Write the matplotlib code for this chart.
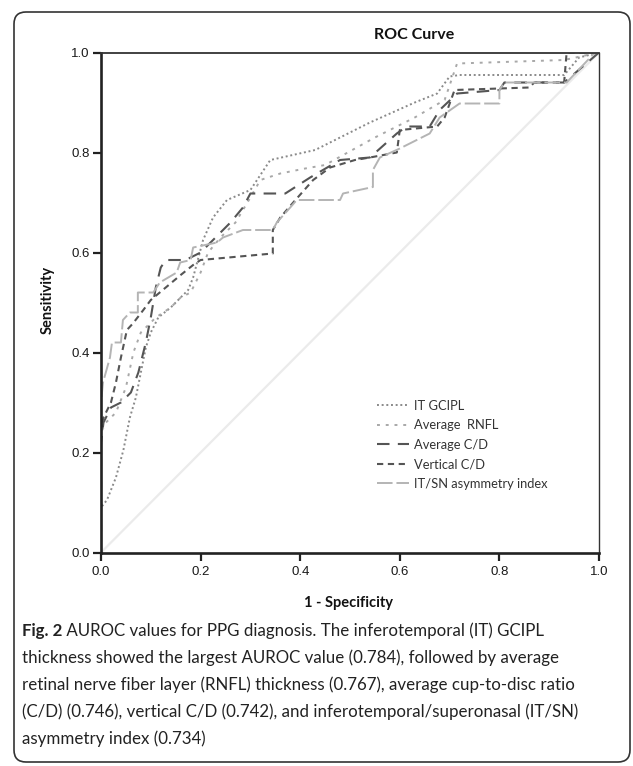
import matplotlib
matplotlib.use("Agg")
import matplotlib.pyplot as plt
from matplotlib.patches import FancyBboxPatch
from matplotlib.transforms import IdentityTransform

# ROC curves (x = 1 - specificity, y = sensitivity)
gcipl_x = [0.0, 0.0, 0.012, 0.03, 0.045, 0.058, 0.07, 0.08, 0.09, 0.10, 0.115, 0.14, 0.16, 0.175, 0.185,
           0.205, 0.225, 0.253, 0.30, 0.34, 0.43, 0.54, 0.63, 0.675, 0.70, 0.72, 0.93, 0.96, 1.0]
gcipl_y = [0.0, 0.09, 0.105, 0.15, 0.205, 0.27, 0.31, 0.36, 0.41, 0.44, 0.47, 0.49, 0.51, 0.525, 0.55,
           0.625, 0.67, 0.705, 0.725, 0.785, 0.805, 0.86, 0.90, 0.918, 0.952, 0.955, 0.955, 0.99, 1.0]

rnfl_x = [0.0, 0.0, 0.01, 0.03, 0.05, 0.065, 0.08, 0.11, 0.14, 0.16, 0.18, 0.20, 0.215, 0.24, 0.27,
          0.30, 0.32, 0.36, 0.41, 0.45, 0.55, 0.63, 0.69, 0.715, 0.93, 1.0]
rnfl_y = [0.0, 0.24, 0.26, 0.28, 0.33, 0.40, 0.44, 0.47, 0.49, 0.51, 0.52, 0.56, 0.60, 0.63, 0.66,
          0.71, 0.745, 0.758, 0.768, 0.775, 0.83, 0.87, 0.905, 0.978, 0.985, 1.0]

avg_cd_x = [0.0, 0.0, 0.005, 0.02, 0.04, 0.06, 0.075, 0.09, 0.10, 0.11, 0.12, 0.13, 0.17, 0.20, 0.23,
            0.26, 0.285, 0.30, 0.37, 0.42, 0.48, 0.54, 0.594, 0.614, 0.66, 0.68, 0.715, 0.80, 0.81,
            0.93, 1.0]
avg_cd_y = [0.0, 0.22, 0.26, 0.29, 0.30, 0.32, 0.36, 0.42, 0.47, 0.53, 0.57, 0.585, 0.585, 0.60, 0.63,
            0.66, 0.69, 0.718, 0.718, 0.75, 0.785, 0.79, 0.838, 0.852, 0.852, 0.885, 0.918, 0.925, 0.94,
            0.94, 1.0]

vert_cd_x = [0.0, 0.0, 0.005, 0.02, 0.03, 0.04, 0.052, 0.064, 0.085, 0.10, 0.13, 0.16, 0.185, 0.20,
             0.345, 0.345, 0.36, 0.386, 0.426, 0.46, 0.51, 0.54, 0.594, 0.60, 0.675, 0.69, 0.71, 0.86,
             0.87, 0.93, 0.935, 1.0]
vert_cd_y = [0.0, 0.25, 0.27, 0.30, 0.34, 0.39, 0.445, 0.458, 0.485, 0.505, 0.53, 0.555, 0.575, 0.585,
             0.598, 0.645, 0.67, 0.70, 0.745, 0.77, 0.785, 0.79, 0.80, 0.845, 0.852, 0.87, 0.925, 0.93,
             0.94, 0.94, 1.0, 1.0]

itsn_x = [0.0, 0.0, 0.004, 0.018, 0.022, 0.04, 0.044, 0.058, 0.074, 0.074, 0.105, 0.118, 0.152, 0.159,
          0.18, 0.185, 0.233, 0.245, 0.285, 0.345, 0.353, 0.38, 0.393, 0.48, 0.486, 0.546, 0.546, 0.56,
          0.60, 0.62, 0.634, 0.66, 0.68, 0.72, 0.80, 0.80, 0.81, 0.935, 0.99, 1.0]
itsn_y = [0.0, 0.30, 0.34, 0.39, 0.42, 0.42, 0.465, 0.48, 0.48, 0.52, 0.52, 0.54, 0.56, 0.58,
          0.585, 0.61, 0.62, 0.63, 0.645, 0.645, 0.66, 0.69, 0.705, 0.705, 0.718, 0.731, 0.765, 0.79,
          0.808, 0.818, 0.825, 0.838, 0.87, 0.898, 0.898, 0.925, 0.94, 0.94, 0.998, 1.0]

labels = ["IT GCIPL", "Average  RNFL", "Average C/D", "Vertical C/D", "IT/SN asymmetry index"]
ticks = [0.0, 0.2, 0.4, 0.6, 0.8, 1.0]

caption_bold = "Fig. 2"
caption_lines = [
    " AUROC values for PPG diagnosis. The inferotemporal (IT) GCIPL",
    "thickness showed the largest AUROC value (0.784), followed by average",
    "retinal nerve fiber layer (RNFL) thickness (0.767), average cup-to-disc ratio",
    "(C/D) (0.746), vertical C/D (0.742), and inferotemporal/superonasal (IT/SN)",
    "asymmetry index (0.734)",
]

W, H = 633, 766
fig = plt.figure(figsize=(W / 100, H / 100), dpi=100)
ax = fig.add_axes([101 / W, 1 - 552.5 / H, 498 / W, 500 / H])

ax.plot([0, 1], [0, 1], color="#ebebeb", lw=1.6, zorder=1)
ax.plot(gcipl_x, gcipl_y, color="#8a8a8a", lw=1.4, ls=(0, (1, 1.4)), label=labels[0])
ax.plot(rnfl_x, rnfl_y, color="#a8a8a8", lw=1.4, ls=(0, (1.5, 3)), label=labels[1])
ax.plot(avg_cd_x, avg_cd_y, color="#555555", lw=1.5, ls=(0, (6, 4)), label=labels[2])
ax.plot(vert_cd_x, vert_cd_y, color="#555555", lw=1.5, ls=(0, (3, 2.2)), label=labels[3])
ax.plot(itsn_x, itsn_y, color="#b4b4b4", lw=1.4, ls=(0, (8, 2)), label=labels[4])

ax.set_xlim(0, 1)
ax.set_ylim(0, 1)
ax.set_xticks(ticks)
ax.set_yticks(ticks)
ax.set_xticklabels([f"{t:.1f}" for t in ticks], family="Liberation Sans", size=9.5, color="#1a1a1a")
ax.set_yticklabels([f"{t:.1f}" for t in ticks], family="Liberation Sans", size=9.5, color="#1a1a1a")
ax.tick_params(direction="out", length=6, width=1.6, color="#222222")
ax.tick_params(axis="x", pad=4)
ax.tick_params(axis="y", pad=2)
for side in ["left", "bottom"]:
    ax.spines[side].set_linewidth(1.9)
    ax.spines[side].set_color("#222222")
ax.spines["top"].set_linewidth(1.3)
ax.spines["top"].set_color("#333333")
ax.spines["right"].set_linewidth(1.0)
ax.spines["right"].set_color("#333333")

fig.text(414 / W, 1 - 35 / H, "ROC Curve", family="Lato", weight="bold", size=11.5,
         ha="center", va="center", color="#111111")
fig.text(349 / W, 1 - 603 / H, "1 - Specificity", family="Lato", weight="bold", size=10.5,
         ha="center", va="center", color="#111111")
fig.text(48 / W, 1 - 300 / H, "Sensitivity", family="Lato", weight="bold", size=10.5,
         ha="center", va="center", rotation=90, color="#111111")

leg = ax.legend(loc="upper left", bbox_to_anchor=(0.554, 0.305), frameon=False,
                prop={"family": "Lato", "size": 9.3}, handlelength=2.5, handletextpad=0.35,
                labelspacing=0.58, borderpad=0, borderaxespad=0)
for t in leg.get_texts():
    t.set_color("#333333")

# caption below the chart
line_y = [631, 658, 685, 712, 739]
fs = 12.2
bold = fig.text(22 / W, 1 - line_y[0] / H, caption_bold, family="Lato", weight="bold",
                size=fs, va="center", color="#222222")
renderer = fig.canvas.get_renderer()
bb = bold.get_window_extent(renderer)
fig.text(bb.x1 / W, 1 - line_y[0] / H, caption_lines[0], family="Lato", size=fs,
         va="center", color="#222222")
for y, line in zip(line_y[1:], caption_lines[1:]):
    fig.text(22 / W, 1 - y / H, line, family="Lato", size=fs, va="center", color="#222222")

border = FancyBboxPatch((14, H - 762), 616, 750, boxstyle="round,pad=0,rounding_size=12",
                        transform=IdentityTransform(), fill=False, lw=1.2, edgecolor="#333333")
fig.patches.append(border)

fig.savefig("out.png", dpi=100)
